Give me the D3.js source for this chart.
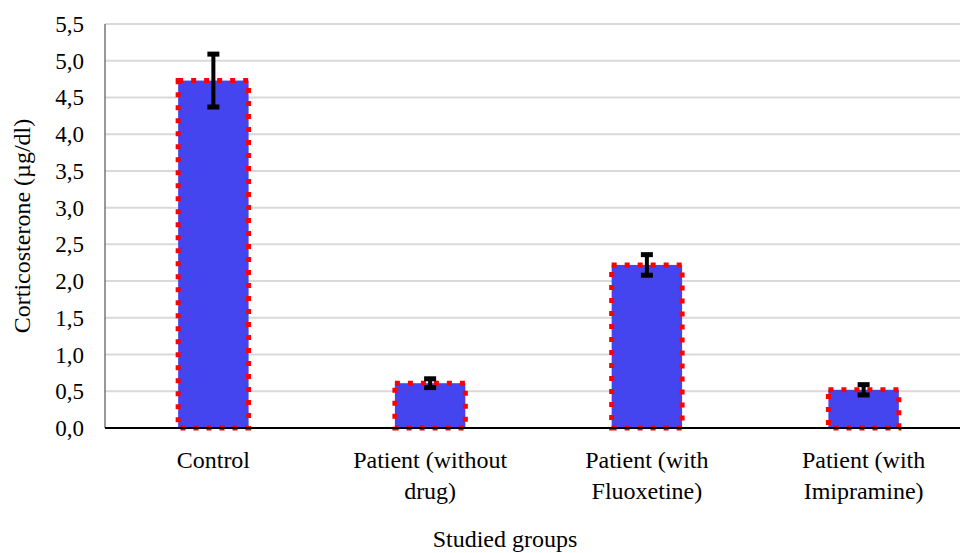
<!DOCTYPE html>
<html><head><meta charset="utf-8"><script src="https://cdn.jsdelivr.net/npm/d3@7"></script></head>
<body style="margin:0">
<script>
const groups = ["Control", "Patient (without drug)", "Patient (with Fluoxetine)", "Patient (with Imipramine)"];
const groupLines = [["Control"], ["Patient (without", "drug)"], ["Patient (with", "Fluoxetine)"], ["Patient (with", "Imipramine)"]];
const means = [4.73, 0.61, 2.22, 0.52];
const errors = [0.36, 0.06, 0.14, 0.07];
const yTicks = [0, 0.5, 1, 1.5, 2, 2.5, 3, 3.5, 4, 4.5, 5, 5.5];

const width = 960, height = 553;
const plotLeft = 105, plotTop = 24, plotBottom = 428;
const serif = "'Times New Roman', 'Liberation Serif', serif";

const svg = d3.select("body").append("svg")
  .attr("width", width)
  .attr("height", height);

const x = d3.scaleBand().domain(groups).range([plotLeft, 972]).paddingInner(0.675).paddingOuter(0.3375);
const y = d3.scaleLinear().domain([0, 5.5]).range([plotBottom, plotTop]);

// gridlines
svg.append("g")
  .selectAll("line")
  .data(yTicks.slice(1))
  .enter()
  .append("line")
  .attr("x1", plotLeft)
  .attr("x2", width)
  .attr("y1", d => y(d))
  .attr("y2", d => y(d))
  .attr("stroke", "#d9d9d9")
  .attr("stroke-width", 2);

// y axis
const fmt = d => d3.format(".1f")(d).replace(".", ",");
svg.append("line")
  .attr("x1", plotLeft).attr("x2", plotLeft)
  .attr("y1", y(5.5)).attr("y2", y(0))
  .attr("stroke", "#555").attr("stroke-width", 1.2);
svg.append("g")
  .selectAll("text")
  .data(yTicks)
  .enter()
  .append("text")
  .attr("x", plotLeft - 21)
  .attr("y", d => y(d) + 8)
  .attr("text-anchor", "end")
  .style("font-family", serif)
  .style("font-size", "23px")
  .text(fmt);

// bars
svg.append("g")
  .selectAll("rect")
  .data(groups)
  .enter()
  .append("rect")
  .attr("x", d => x(d))
  .attr("y", (d, i) => y(means[i]))
  .attr("width", x.bandwidth())
  .attr("height", (d, i) => y(0) - y(means[i]))
  .attr("fill", "#4545f0")
  .attr("stroke", "#ff0000")
  .attr("stroke-width", 5)
  .attr("stroke-dasharray", "5,8");

// x axis line
svg.append("line")
  .attr("x1", plotLeft)
  .attr("x2", width)
  .attr("y1", plotBottom)
  .attr("y2", plotBottom)
  .attr("stroke", "#000")
  .attr("stroke-width", 2);

// error bars
const eb = svg.append("g").selectAll("g").data(groups).enter().append("g");
eb.append("line")
  .attr("x1", d => x(d) + x.bandwidth() / 2)
  .attr("x2", d => x(d) + x.bandwidth() / 2)
  .attr("y1", (d, i) => y(means[i] + errors[i]))
  .attr("y2", (d, i) => y(means[i] - errors[i]))
  .attr("stroke", "#000")
  .attr("stroke-width", 4);
[1, -1].forEach(s => {
  eb.append("line")
    .attr("x1", d => x(d) + x.bandwidth() / 2 - 6)
    .attr("x2", d => x(d) + x.bandwidth() / 2 + 6)
    .attr("y1", (d, i) => y(means[i] + s * errors[i]))
    .attr("y2", (d, i) => y(means[i] + s * errors[i]))
    .attr("stroke", "#000")
    .attr("stroke-width", 5);
});

// x labels
groups.forEach((g, i) => {
  groupLines[i].forEach((line, j) => {
    svg.append("text")
      .attr("text-anchor", "middle")
      .style("font-family", serif)
      .style("font-size", "24px")
      .attr("x", x(g) + x.bandwidth() / 2)
      .attr("y", 468 + j * 31)
      .text(line);
  });
});

// axis titles
svg.append("text")
  .attr("text-anchor", "middle")
  .style("font-family", serif)
  .style("font-size", "24px")
  .attr("x", 505)
  .attr("y", 547)
  .text("Studied groups");

svg.append("text")
  .attr("text-anchor", "middle")
  .style("font-family", serif)
  .style("font-size", "24px")
  .attr("transform", `translate(30,${(plotTop + plotBottom) / 2}) rotate(-90)`)
  .text("Corticosterone (µg/dl)");
</script>
</body></html>
